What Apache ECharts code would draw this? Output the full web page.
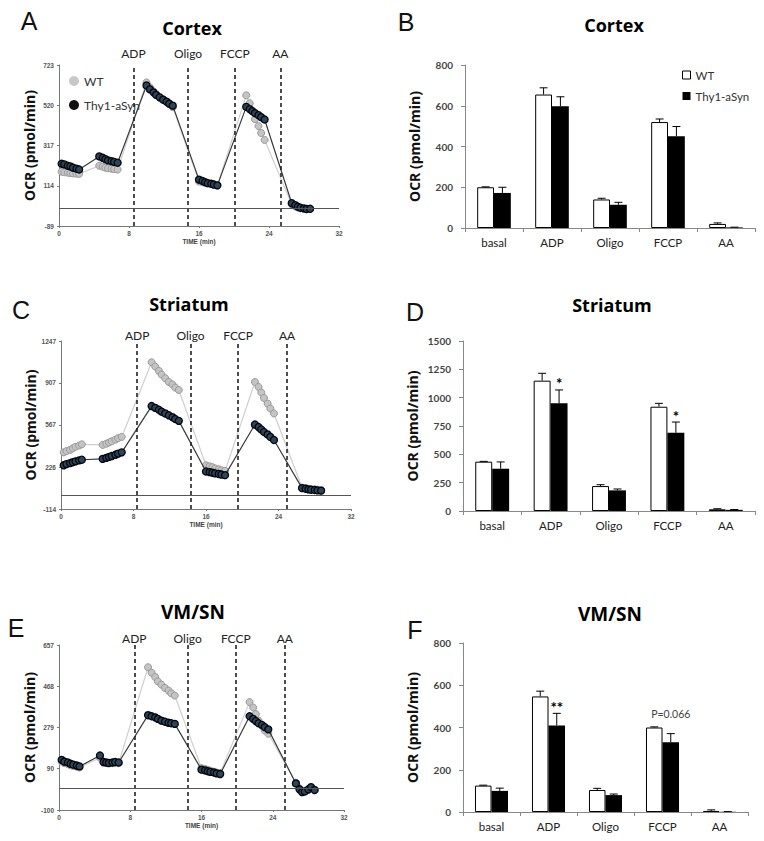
<!DOCTYPE html>
<html><head><meta charset="utf-8">
<script src="https://cdn.jsdelivr.net/npm/echarts@6/dist/echarts.min.js"></script>
<style>html,body{margin:0;padding:0;background:#fff}#c{width:764px;height:841px}</style>
</head><body><div id="c"></div>
<script>
// ---------- DATA ----------
const timeMin = [0.3,0.6,1.0,1.3,1.6,2.0,2.3, 4.6,5.0,5.3,5.6,6.0,6.3,6.7,
  10.0,10.4,10.8,11.1,11.5,11.9,12.3,12.6,13.0, 16.0,16.4,16.7,17.0,17.4,17.7,18.1,
  21.4,21.8,22.1,22.4,22.8,23.1,23.5, 26.6,27.0,27.3,27.6,28.0,28.3,28.7];
const cortexThy = [225,222,215,212,205,200,196, 262,255,248,242,238,234,230,
  620,600,585,572,560,548,538,528,518, 145,138,132,127,124,120,116,
  512,500,490,480,470,460,448, 26,16,8,3,0,-3,-2];
const cortexWT = [185,182,180,178,176,175,174, 215,210,205,202,200,198,196,
  635,610,590,575,562,550,538,525,510, 135,132,129,126,123,120,116,
  570,530,490,450,415,380,345, 20,10,4,0,-3,-5,-4];
const striatumThy = [240,250,258,265,272,280,285, 292,300,308,315,325,335,345,
  720,705,690,675,660,645,630,615,600, 190,185,180,175,170,165,160,
  570,550,530,510,490,470,445, 55,50,45,42,40,37,35];
const striatumWT = [345,355,365,378,390,400,410, 405,415,425,435,448,460,470,
  1075,1040,1005,975,945,915,895,870,850, 240,232,225,215,208,200,195,
  915,875,830,785,740,700,660, 60,55,50,47,45,42,40];
const vmsnThy = [130,122,118,112,108,104,100, 150,120,118,116,118,120,118,
  335,330,325,318,310,305,300,298,295, 85,82,78,75,72,68,65,
  330,318,308,298,290,280,270, 22,-5,-18,-15,-5,5,-8];
const vmsnWT = [122,115,110,105,102,98,95, 140,118,115,113,115,117,115,
  555,530,510,490,475,460,448,435,425, 92,88,84,80,76,72,70,
  395,370,340,310,285,265,250, 25,0,-15,-12,-8,0,-10];

const injections = ['ADP','Oligo','FCCP','AA'];
const injTimesCortex = [8.5, 14.75, 20.1, 25.3];
const injTimesStriatum = [8.4, 14.3, 19.55, 24.95];
const injTimesVmsn = [8.45, 14.45, 19.85, 25.35];

const yTicksCortex = [-89,114,317,520,723];
const yTicksStriatum = [-114,226,567,907,1247];
const yTicksVmsn = [-100,90,279,468,657];
const xTicksTime = [0,8,16,24,32];

const categories = ['basal','ADP','Oligo','FCCP','AA'];
const barCortexWT = [200,655,140,520,20];
const barCortexWTErr = [2,33,6,15,5];
const barCortexThy = [172,597,114,450,3];
const barCortexThyErr = [28,47,12,48,1];
const barStriatumWT = [435,1150,220,920,15];
const barStriatumWTErr = [3,65,12,30,5];
const barStriatumThy = [373,950,182,690,10];
const barStriatumThyErr = [60,118,12,95,3];
const barVmsnWT = [125,547,104,400,5];
const barVmsnWTErr = [2,25,8,3,5];
const barVmsnThy = [100,410,80,330,1];
const barVmsnThyErr = [13,57,5,41,1];
const annotStriatum = ['','*','','*',''];
const annotVmsn = ['','**','','P=0.066',''];
const barTicksCortex = [0,200,400,600,800];
const barTicksStriatum = [0,250,500,750,1000,1250,1500];
const barTicksVmsn = [0,200,400,600,800];

// ---------- LAYOUT ----------
const grids = [
  {left:59, top:65, width:280, height:161},   // A
  {left:465, top:65, width:290, height:163},  // B
  {left:61, top:341, width:290, height:168},  // C
  {left:463, top:341, width:292, height:170}, // D
  {left:59, top:645, width:285, height:165},  // E
  {left:463, top:643, width:285, height:169}  // F
];
const BAR_FRAC = 0.29;
const tickFont = 'Liberation Sans';
const uiFont = 'Lato';
const plain = v => String(v);

function lineXAxis(gi){
  return {type:'value', gridIndex:gi, min:xTicksTime[0], max:xTicksTime[xTicksTime.length-1],
    interval:xTicksTime[1]-xTicksTime[0],
    axisLine:{show:true, onZero:false, lineStyle:{color:'#777', width:1}},
    axisTick:{show:true, length:2, lineStyle:{color:'#777'}},
    axisLabel:{fontSize:6.5, fontWeight:'bold', color:'#555', fontFamily:tickFont, margin:4, formatter:plain},
    splitLine:{show:false},
    name:'TIME (min)', nameLocation:'middle', nameGap:12,
    nameTextStyle:{fontSize:6.5, fontWeight:'bold', color:'#444', fontFamily:tickFont}};
}
function lineYAxis(gi, ticks){
  return {type:'value', gridIndex:gi, min:ticks[0], max:ticks[ticks.length-1],
    axisLine:{show:true, onZero:false, lineStyle:{color:'#777', width:1}},
    axisTick:{show:true, length:2, customValues:ticks, lineStyle:{color:'#777'}},
    axisLabel:{customValues:ticks, fontSize:6.5, fontWeight:'bold', color:'#555', fontFamily:tickFont, margin:5, formatter:plain},
    splitLine:{show:false},
    name:'OCR (pmol/min)', nameLocation:'middle', nameRotate:90, nameGap:23,
    nameTextStyle:{fontSize:14, fontWeight:'bold', color:'#111', fontFamily:'Open Sans'}};
}
function barXAxis(gi){
  return {type:'category', gridIndex:gi, data:categories,
    axisLine:{lineStyle:{color:'#888'}},
    axisTick:{show:true, length:4, lineStyle:{color:'#888'}},
    axisLabel:{fontSize:11.5, color:'#222', fontFamily:uiFont, margin:8}};
}
function barYAxis(gi, ticks){
  return {type:'value', gridIndex:gi, min:ticks[0], max:ticks[ticks.length-1],
    interval:ticks[1]-ticks[0],
    axisLine:{show:true, lineStyle:{color:'#888'}},
    axisTick:{show:true, length:4, lineStyle:{color:'#888'}},
    axisLabel:{fontSize:10, fontWeight:'bold', color:'#444', fontFamily:uiFont, margin:12, formatter:plain},
    splitLine:{show:false},
    name:'OCR (pmol/min)', nameLocation:'middle', nameRotate:90, nameGap:44,
    nameTextStyle:{fontSize:14, fontWeight:'bold', color:'#111', fontFamily:'Open Sans'}};
}

function lineSeries(gi, name, vals, isThy, injTimes, labelDist){
  const s = {type:'line', name, xAxisIndex:gi, yAxisIndex:gi,
    data: timeMin.map((t,i)=>[t, vals[i]]),
    symbol:'circle', symbolSize:7, z: isThy?4:3,
    lineStyle:{color: isThy?'#3a3a3a':'#cfcfcf', width:1.2},
    itemStyle: isThy ? {color:'#2b4560', borderColor:'#050505', borderWidth:1.3}
                     : {color:'#c4c4c4', borderColor:'#9a9a9a', borderWidth:1},
    emphasis:{disabled:true}, animation:false};
  if (isThy) {
    s.markLine = {silent:true, symbol:['none','none'], animation:false,
      data: injTimes.map((t,k)=>({xAxis:t, name:injections[k],
          lineStyle:{type:[4,3], color:'#222', width:1.6},
          label:{show:true, position:'end', formatter:'{b}', distance:labelDist,
                 fontSize:12, color:'#222', fontFamily:uiFont}}))
        .concat([{yAxis:0, lineStyle:{type:'solid', color:'#555', width:1}, label:{show:false}}])};
  }
  return s;
}

function barSeries(gi, name, vals, isThy){
  return {type:'bar', name, xAxisIndex:gi, yAxisIndex:gi, data:vals,
    barWidth:(BAR_FRAC*100)+'%', barGap:'0%',
    itemStyle: isThy ? {color:'#000'} : {color:'#fff', borderColor:'#000', borderWidth:1},
    emphasis:{disabled:true}, animation:false, z:2};
}

function errSeries(gi, wt, wtErr, thy, thyErr, annot){
  const data = [];
  const sides = [];
  categories.forEach((c,i)=>{
    data.push([i, wt[i], wtErr[i]]); sides.push(-1);
    data.push([i, thy[i], thyErr[i]]); sides.push(1);
  });
  return {type:'custom', name:'err', xAxisIndex:gi, yAxisIndex:gi, z:5, silent:true, animation:false,
    itemStyle:{color:'#000'},
    data,
    renderItem(params, api){
      const idx = params.dataIndex;
      const ci = api.value(0), v = api.value(1), e = api.value(2), side = sides[idx];
      const bw = api.size([1,0])[0]*BAR_FRAC;
      const p0 = api.coord([ci, v]);
      const p1 = api.coord([ci, v+e]);
      const x = p0[0] + side*bw/2;
      const children = [
        {type:'line', shape:{x1:x, y1:p0[1], x2:x, y2:p1[1]}, style:{stroke:'#000', lineWidth:1}},
        {type:'line', shape:{x1:x-4, y1:p1[1], x2:x+4, y2:p1[1]}, style:{stroke:'#000', lineWidth:1}}
      ];
      const ci2 = Math.round(ci);
      const txt = annot ? annot[ci2] : '';
      if (side === 1 && txt) {
        const isStar = txt.indexOf('*') === 0;
        let y, font;
        if (isStar) { y = p1[1] + 1; font = 'bold 15px ' + uiFont; }
        else {
          const wtTop = api.coord([ci, wt[ci2]+wtErr[ci2]])[1];
          y = Math.min(wtTop, p1[1]) - 7; font = '10.5px ' + uiFont;
        }
        children.push({type:'text', x:x, y:y,
          style:{text:txt, align:'center', verticalAlign:'bottom', font, fill: isStar?'#000':'#444', stroke:null}});
      }
      return {type:'group', children};
    }};
}

function textEl(x, y, text, font, fill){
  return {type:'text', x, y, style:{text, font, fill: fill||'#111', align:'center', verticalAlign:'middle'}};
}

const option = {
  backgroundColor:'#fff',
  animation:false,
  grid: grids.map(g=>Object.assign({containLabel:false}, g)),
  xAxis: [lineXAxis(0), barXAxis(1), lineXAxis(2), barXAxis(3), lineXAxis(4), barXAxis(5)],
  yAxis: [lineYAxis(0, yTicksCortex), barYAxis(1, barTicksCortex),
          lineYAxis(2, yTicksStriatum), barYAxis(3, barTicksStriatum),
          lineYAxis(4, yTicksVmsn), barYAxis(5, barTicksVmsn)],
  legend: [
    {orient:'vertical', left:64, top:70, itemWidth:10, itemHeight:10, itemGap:12,
     selectedMode:false,
     textStyle:{fontSize:12, color:'#333', fontFamily:uiFont},
     data:[{name:'WT', icon:'circle', itemStyle:{color:'#c8c8c8', borderWidth:0}},
           {name:'Thy1-aSyn', icon:'circle', itemStyle:{color:'#111', borderWidth:0}}]},
    {orient:'vertical', left:677, top:64, itemWidth:8, itemHeight:8, itemGap:9,
     selectedMode:false,
     textStyle:{fontSize:11.5, color:'#333', fontFamily:uiFont},
     data:[{name:'WT', icon:'rect', itemStyle:{color:'#fff', borderColor:'#000', borderWidth:1}},
           {name:'Thy1-aSyn', icon:'rect', itemStyle:{color:'#000', borderWidth:0}}]}
  ],
  graphic: {elements: [
    textEl(29, 21, 'A', '25px Liberation Sans'),
    textEl(406, 22, 'B', '25px Liberation Sans'),
    textEl(21, 310, 'C', '25px Liberation Sans'),
    textEl(415, 312, 'D', '25px Liberation Sans'),
    textEl(16, 628, 'E', '25px Liberation Sans'),
    textEl(415, 630, 'F', '25px Liberation Sans'),
    textEl(192, 28, 'Cortex', 'bold 18px Open Sans', '#000'),
    textEl(614, 25, 'Cortex', 'bold 18px Open Sans', '#000'),
    textEl(189, 304, 'Striatum', 'bold 18px Open Sans', '#000'),
    textEl(612, 305, 'Striatum', 'bold 18px Open Sans', '#000'),
    textEl(193, 612, 'VM/SN', 'bold 19px Open Sans', '#000'),
    textEl(610, 614, 'VM/SN', 'bold 19px Open Sans', '#000')
  ]},
  series: [
    lineSeries(0, 'WT', cortexWT, false),
    lineSeries(0, 'Thy1-aSyn', cortexThy, true, injTimesCortex, 6),
    lineSeries(2, 'WT', striatumWT, false),
    lineSeries(2, 'Thy1-aSyn', striatumThy, true, injTimesStriatum, 0),
    lineSeries(4, 'WT', vmsnWT, false),
    lineSeries(4, 'Thy1-aSyn', vmsnThy, true, injTimesVmsn, 1),
    barSeries(1, 'WT', barCortexWT, false),
    barSeries(1, 'Thy1-aSyn', barCortexThy, true),
    errSeries(1, barCortexWT, barCortexWTErr, barCortexThy, barCortexThyErr, null),
    barSeries(3, 'WT', barStriatumWT, false),
    barSeries(3, 'Thy1-aSyn', barStriatumThy, true),
    errSeries(3, barStriatumWT, barStriatumWTErr, barStriatumThy, barStriatumThyErr, annotStriatum),
    barSeries(5, 'WT', barVmsnWT, false),
    barSeries(5, 'Thy1-aSyn', barVmsnThy, true),
    errSeries(5, barVmsnWT, barVmsnWTErr, barVmsnThy, barVmsnThyErr, annotVmsn)
  ]
};
const chart = echarts.init(document.getElementById('c'), null, {renderer:'svg'});
chart.setOption(option);
</script>
</body></html>
